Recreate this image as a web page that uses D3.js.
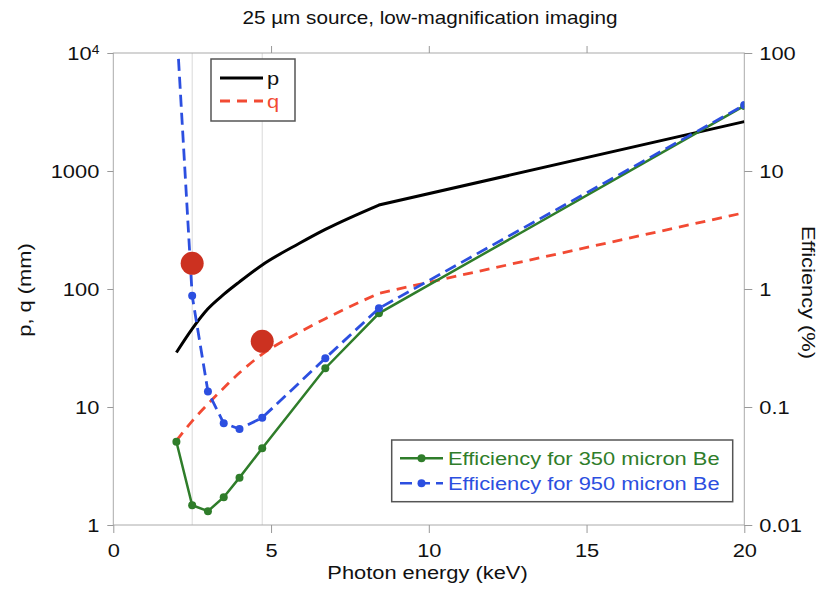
<!DOCTYPE html>
<html lang="en">
<head>
    <meta charset="UTF-8">
    <title>25 µm source, low-magnification imaging</title>
    <style>
        body { margin: 0; background: #fff; }
        text { font-family: "Liberation Sans", Arial, sans-serif; fill: #111; }
        .axis path { display: none; }
        .axis line { stroke: #999; }
    </style>
    <script src="https://cdn.jsdelivr.net/npm/d3@7/dist/d3.min.js"></script>
</head>
<body>
<svg class="chart" width="821" height="590"></svg>
<script>
    // values
    const energy = [2, 2.5, 3, 3.5, 4, 4.72, 5.9, 6.72, 8.42, 20],
        pValues = [29, 46, 68, 90, 115, 160, 244, 320, 515, 2620],
        qValues = [5.2, 7.6, 10.6, 14.5, 19.5, 28, 43, 56, 92, 443],
        effEnergy = [2, 2.5, 3, 3.5, 4, 4.72, 6.72, 8.42, 20],
        eff350 = [0.0508, 0.0147, 0.0131, 0.0172, 0.0252, 0.0447, 0.213, 0.622, 35.6],
        eff950 = [180, 0.877, 0.135, 0.0728, 0.0651, 0.0811, 0.259, 0.686, 36.2],
        markEnergy = [2.5, 4.72],
        markP = [165, 36],
        xTicks = [0, 5, 10, 15, 20],
        leftTicks = [1, 10, 100, 1000, 10000],
        rightTicks = [0.01, 0.1, 1, 10, 100];

    const svg = d3.select('.chart'),
        pad = {left: 113.3, right: 744.3, top: 53, bottom: 525},
        SX = 1.15; // glyphs in the original are wider than Arial

    let x = d3.scaleLinear().domain([0, 20]).range([pad.left, pad.right]),
        yP = d3.scaleLog().domain([1, 10000]).range([pad.bottom, pad.top]),
        yE = d3.scaleLog().domain([0.01, 100]).range([pad.bottom, pad.top]);

    // stretched text helper
    function label(g, tx, ty, str, size, anchor, rot, color) {
        return g.append('text')
            .attr('transform', 'translate(' + tx + ',' + ty + ') rotate(' + (rot || 0) + ') scale(' + SX + ',1)')
            .attr('text-anchor', anchor || 'middle')
            .style('font-size', size + 'px')
            .style('fill', color || '#111')
            .text(str);
    }

    svg.append('clipPath').attr('id', 'plot')
        .append('rect').attr('x', pad.left).attr('y', pad.top)
        .attr('width', pad.right - pad.left).attr('height', pad.bottom - pad.top);

    // light vertical guides at the marked energies
    svg.selectAll('.guide').data(markEnergy).enter().append('line')
        .attr('class', 'guide')
        .attr('x1', d => x(d)).attr('x2', d => x(d))
        .attr('y1', pad.top).attr('y2', pad.bottom)
        .attr('stroke', '#d9d9d9').attr('stroke-width', 1);

    // frame
    svg.append('rect')
        .attr('x', pad.left).attr('y', pad.top)
        .attr('width', pad.right - pad.left).attr('height', pad.bottom - pad.top)
        .attr('fill', 'none').attr('stroke', '#aaa').attr('stroke-width', 1);

    /**
     * axes
     */
    let xAxis = svg.append('g').attr('class', 'axis')
        .attr('transform', 'translate(0,' + pad.bottom + ')')
        .call(d3.axisBottom(x).tickValues(xTicks).tickSize(8).tickFormat(d3.format('d')));
    xAxis.selectAll('text')
        .attr('y', null).attr('dy', null)
        .attr('transform', 'translate(0,32) scale(' + SX + ',1)')
        .style('font-size', '19px');

    svg.append('g').attr('class', 'axis')
        .attr('transform', 'translate(0,' + pad.top + ')')
        .call(d3.axisTop(x).tickValues([5, 10, 15]).tickSize(7).tickFormat(''));

    let yAxisL = svg.append('g').attr('class', 'axis')
        .attr('transform', 'translate(' + pad.left + ',0)')
        .call(d3.axisLeft(yP).tickValues(leftTicks).tickSize(6).tickFormat(d => d === 10000 ? '' : d));
    yAxisL.selectAll('text')
        .attr('x', null)
        .attr('transform', 'translate(-14,0) scale(' + SX + ',1)')
        .style('font-size', '19px');
    // 10^4 with superscript
    let sup = yAxisL.selectAll('.tick').filter(d => d === 10000).select('text');
    sup.append('tspan').text('10');
    sup.append('tspan').attr('dy', '-0.5em').style('font-size', '12px').text('4');

    let yAxisR = svg.append('g').attr('class', 'axis')
        .attr('transform', 'translate(' + pad.right + ',0)')
        .call(d3.axisRight(yE).tickValues(rightTicks).tickSize(8).tickFormat(d => String(d)));
    yAxisR.selectAll('text')
        .attr('x', null)
        .attr('transform', 'translate(15,0) scale(' + SX + ',1)')
        .style('font-size', '19px');

    // titles
    label(svg, 430, 24, '25 µm source, low-magnification imaging', 18);
    label(svg, 427.5, 579, 'Photon energy (keV)', 19);
    label(svg, 31, 290, 'p, q (mm)', 19, 'middle', -90);
    label(svg, 802, 292.5, 'Efficiency (%)', 19, 'middle', 90);

    /**
     * curves
     */
    const plot = svg.append('g').attr('clip-path', 'url(#plot)');
    const smoothP = d3.line().curve(d3.curveMonotoneX).x(d => x(d[0])).y(d => yP(d[1])),
        lineP = d3.line().x(d => x(d[0])).y(d => yP(d[1])),
        lineE = d3.line().x(d => x(d[0])).y(d => yE(d[1]));

    const green = '#2f7d2a', blue = '#2c4fe0', red = '#f24a33', black = '#000';

    // p and q: smooth up to the knee, straight after it
    function drawPQ(vals, color, dash) {
        let pts = d3.zip(energy, vals), k = energy.indexOf(8.42);
        let path = smoothP(pts.slice(0, k + 1)) + lineP(pts.slice(k)).replace(/^M/, 'L');
        plot.append('path').attr('d', path).attr('fill', 'none')
            .attr('stroke', color).attr('stroke-width', dash ? 2.8 : 3)
            .attr('stroke-dasharray', dash);
    }
    drawPQ(pValues, black, null);
    drawPQ(qValues, red, '10,7');

    plot.append('path').datum(d3.zip(effEnergy, eff350))
        .attr('d', lineE).attr('fill', 'none')
        .attr('stroke', green).attr('stroke-width', 2.5);
    plot.selectAll('.m350').data(d3.zip(effEnergy, eff350)).enter().append('circle')
        .attr('class', 'm350')
        .attr('cx', d => x(d[0])).attr('cy', d => yE(d[1])).attr('r', 4)
        .attr('fill', green);

    plot.append('path').datum(d3.zip(effEnergy, eff950))
        .attr('d', lineE).attr('fill', 'none')
        .attr('stroke', blue).attr('stroke-width', 2.8).attr('stroke-dasharray', '12,6');
    plot.selectAll('.m950').data(d3.zip(effEnergy, eff950)).enter().append('circle')
        .attr('class', 'm950')
        .attr('cx', d => x(d[0])).attr('cy', d => yE(d[1])).attr('r', 4)
        .attr('fill', blue);

    // red dots
    svg.selectAll('.dot').data(d3.zip(markEnergy, markP)).enter().append('circle')
        .attr('class', 'dot')
        .attr('cx', d => x(d[0])).attr('cy', d => yP(d[1])).attr('r', 11.5)
        .attr('fill', '#cc3120');

    /**
     * legends
     */
    let lg1 = svg.append('g');
    lg1.append('rect').attr('x', 211).attr('y', 59).attr('width', 84).attr('height', 62)
        .attr('fill', '#fff').attr('stroke', '#555').attr('stroke-width', 1.5);
    lg1.append('line').attr('x1', 220).attr('x2', 263).attr('y1', 78).attr('y2', 78)
        .attr('stroke', black).attr('stroke-width', 3);
    lg1.append('line').attr('x1', 220).attr('x2', 263).attr('y1', 101).attr('y2', 101)
        .attr('stroke', red).attr('stroke-width', 2.8).attr('stroke-dasharray', '10,7');
    label(lg1, 267, 85, 'p', 19, 'start');
    label(lg1, 267, 108, 'q', 19, 'start', 0, red);

    let lg2 = svg.append('g');
    lg2.append('rect').attr('x', 391.7).attr('y', 440).attr('width', 341).attr('height', 61.7)
        .attr('fill', '#fff').attr('stroke', '#555').attr('stroke-width', 1.5);
    [[458.3, green, null, 'Efficiency for 350 micron Be'],
        [483.3, blue, '12,6', 'Efficiency for 950 micron Be']].forEach(e => {
        lg2.append('line').attr('x1', 400).attr('x2', 443).attr('y1', e[0]).attr('y2', e[0])
            .attr('stroke', e[1]).attr('stroke-width', 2.5).attr('stroke-dasharray', e[2]);
        lg2.append('circle').attr('cx', 421.5).attr('cy', e[0]).attr('r', 4).attr('fill', e[1]);
        label(lg2, 448, e[0] + 7, e[3], 19, 'start', 0, e[1]);
    });
</script>
</body>
</html>
